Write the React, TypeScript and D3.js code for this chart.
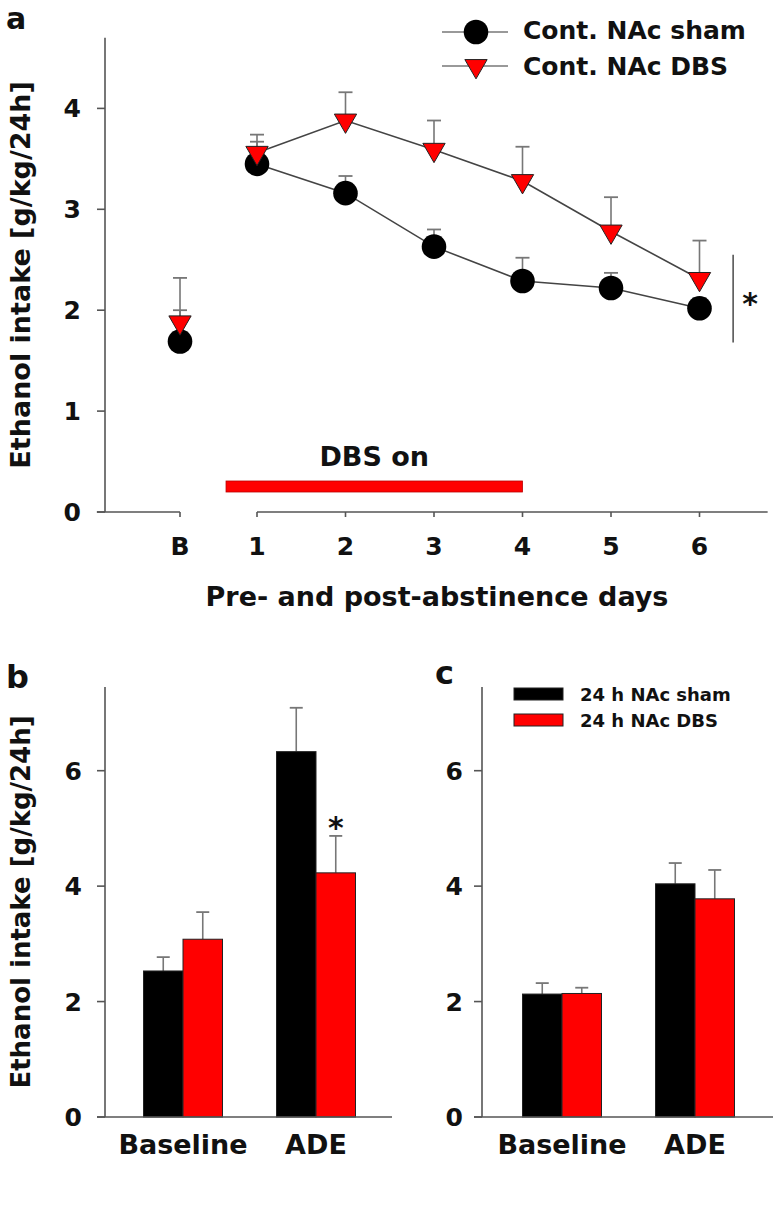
import React from 'react';
import * as d3 from 'd3';

// ---------- Panel a data ----------
const dayLabels = ["B", "1", "2", "3", "4", "5", "6"];
const dayPos = [0.13, 1, 2, 3, 4, 5, 6];
const shamMean = [1.69, 3.45, 3.16, 2.63, 2.29, 2.22, 2.02];
const shamSem = [0.31, 0.22, 0.17, 0.17, 0.23, 0.15, 0.1];
const dbsMean = [1.88, 3.56, 3.88, 3.59, 3.28, 2.78, 2.31];
const dbsSem = [0.44, 0.18, 0.28, 0.29, 0.34, 0.34, 0.38];
const yTicksA = [0, 1, 2, 3, 4];
const dbsOnRange = [0.65, 4];
const legendA = ["Cont. NAc sham", "Cont. NAc DBS"];

// ---------- Panels b, c data ----------
const barGroups = ["Baseline", "ADE"];
const barSeries = ["sham", "dbs"];
const bShamMean = [2.53, 6.33];
const bShamSem = [0.24, 0.76];
const bDbsMean = [3.08, 4.23];
const bDbsSem = [0.47, 0.64];
const cShamMean = [2.13, 4.04];
const cShamSem = [0.19, 0.36];
const cDbsMean = [2.14, 3.78];
const cDbsSem = [0.1, 0.5];
const yTicksBC = [0, 2, 4, 6];
const legendC = ["24 h NAc sham", "24 h NAc DBS"];

const FONT = "'DejaVu Sans', 'Liberation Sans', sans-serif";
const AX = "#555";
const RED = "#ff0000";

function BarPanel(props: {
  x0: number; x1: number; axisX: number; axisLeft: number; axisRight: number;
  shamM: number[]; shamE: number[]; dbsM: number[]; dbsE: number[];
  star?: boolean; labelX: number;
}) {
  const { x0, x1, axisX, axisLeft, axisRight, shamM, shamE, dbsM, dbsE } = props;
  const y = d3.scaleLinear().domain([0, 7.45]).range([1117, 687]);
  const xg = d3.scaleBand().domain(barGroups).range([x0, x1]);
  const bw = 39.5;
  const xs = (g: string) =>
    d3.scaleBand().domain(barSeries).range([xg(g)! + xg.bandwidth() / 2 - bw, xg(g)! + xg.bandwidth() / 2 + bw]);
  const vals: Record<string, number[][]> = { sham: [shamM, shamE], dbs: [dbsM, dbsE] };
  return (
    <g>
      {barGroups.map((g, gi) =>
        barSeries.map((s) => {
          const sc = xs(g);
          const m = vals[s][0][gi];
          const e = vals[s][1][gi];
          const cx = sc(s)! + sc.bandwidth() / 2;
          return (
            <g key={g + s}>
              <line x1={cx} x2={cx} y1={y(m)} y2={y(m + e)} stroke="#777" strokeWidth={1.6} />
              <line x1={cx - 6.5} x2={cx + 6.5} y1={y(m + e)} y2={y(m + e)} stroke="#777" strokeWidth={1.8} />
              <rect x={sc(s)} y={y(m)} width={sc.bandwidth()} height={y(0) - y(m)}
                fill={s === "sham" ? "#000" : RED} stroke="#222" strokeWidth={1} />
            </g>
          );
        })
      )}
      <line x1={axisX} x2={axisX} y1={y.range()[1]} y2={y(0)} stroke={AX} strokeWidth={1.6} />
      <line x1={axisLeft} x2={axisRight} y1={y(0)} y2={y(0)} stroke={AX} strokeWidth={1.6} />
      {yTicksBC.map((t) => (
        <g key={t}>
          <line x1={axisX - 8} x2={axisX} y1={y(t)} y2={y(t)} stroke={AX} strokeWidth={1.6} />
          <text x={props.labelX} y={y(t)} dy="0.36em" textAnchor="end" fontSize={25} fontWeight="bold" fontFamily={FONT} fill="#111">{t}</text>
        </g>
      ))}
      {barGroups.map((g) => (
        <text key={g} x={xg(g)! + xg.bandwidth() / 2} y={1154} textAnchor="middle" fontSize={27} fontWeight="bold" fontFamily={FONT} fill="#111">{g}</text>
      ))}
      {props.star && (() => {
        const sc = xs("ADE");
        const cx = sc("dbs")! + sc.bandwidth() / 2;
        return <text x={cx} y={y(dbsM[1] + dbsE[1]) + 2} textAnchor="middle" fontSize={30} fontWeight="bold" fontFamily={FONT} fill="#111">*</text>;
      })()}
    </g>
  );
}

export default function App() {
  const xA = d3.scaleLinear().domain([1, 6]).range([257, 699.5]);
  const yA = d3.scaleLinear().domain([0, 4]).range([512, 108.4]);
  const tri = d3.symbol(d3.symbolTriangle, 215)()!;
  const lineGen = d3.line<number>().x((_, i) => xA(dayPos[i + 1])).y((d) => yA(d));

  return (
    <svg width={775} height={1205} style={{ position: 'absolute', left: 0, top: 0, background: '#fff' }}>
      <rect x={0} y={0} width={775} height={1205} fill="#fff" />
      {/* ===== Panel a ===== */}
      <text x={6} y={29} fontSize={30} fontWeight="bold" fontFamily={FONT} fill="#111">a</text>
      <text transform={`translate(30,${(yA(0) + yA(4.7)) / 2}) rotate(-90)`} textAnchor="middle" fontSize={27} fontWeight="bold" fontFamily={FONT} fill="#111">Ethanol intake [g/kg/24h]</text>
      <line x1={105} x2={105} y1={yA(4.7)} y2={yA(0)} stroke={AX} strokeWidth={1.6} />
      {yTicksA.map((t) => (
        <g key={t}>
          <line x1={97} x2={105} y1={yA(t)} y2={yA(t)} stroke={AX} strokeWidth={1.6} />
          <text x={81} y={yA(t)} dy="0.36em" textAnchor="end" fontSize={25} fontWeight="bold" fontFamily={FONT} fill="#111">{t}</text>
        </g>
      ))}
      <line x1={xA(-0.81)} x2={xA(dayPos[0])} y1={yA(0)} y2={yA(0)} stroke={AX} strokeWidth={1.6} />
      <line x1={xA(1)} x2={xA(6.77)} y1={yA(0)} y2={yA(0)} stroke={AX} strokeWidth={1.6} />
      {dayPos.map((p, i) => (
        <g key={i}>
          <line x1={xA(p)} x2={xA(p)} y1={yA(0)} y2={yA(0) + 5} stroke={AX} strokeWidth={1.6} />
          <text x={xA(p)} y={555} textAnchor="middle" fontSize={25} fontWeight="bold" fontFamily={FONT} fill="#111">{dayLabels[i]}</text>
        </g>
      ))}
      <text x={437} y={606} textAnchor="middle" fontSize={27} fontWeight="bold" fontFamily={FONT} fill="#111">Pre- and post-abstinence days</text>
      <rect x={xA(dbsOnRange[0])} y={481} width={xA(dbsOnRange[1]) - xA(dbsOnRange[0])} height={11} fill={RED} stroke="#b00" strokeWidth={0.8} />
      <text x={(xA(dbsOnRange[0]) + xA(dbsOnRange[1])) / 2} y={466} textAnchor="middle" fontSize={27} fontWeight="bold" fontFamily={FONT} fill="#111">DBS on</text>
      {dayPos.map((p, i) => (
        <g key={'e' + i}>
          <line x1={xA(p)} x2={xA(p)} y1={yA(shamMean[i])} y2={yA(shamMean[i] + shamSem[i])} stroke="#777" strokeWidth={1.6} />
          <line x1={xA(p) - 7} x2={xA(p) + 7} y1={yA(shamMean[i] + shamSem[i])} y2={yA(shamMean[i] + shamSem[i])} stroke="#777" strokeWidth={1.8} />
          <line x1={xA(p)} x2={xA(p)} y1={yA(dbsMean[i])} y2={yA(dbsMean[i] + dbsSem[i])} stroke="#777" strokeWidth={1.6} />
          <line x1={xA(p) - 7} x2={xA(p) + 7} y1={yA(dbsMean[i] + dbsSem[i])} y2={yA(dbsMean[i] + dbsSem[i])} stroke="#777" strokeWidth={1.8} />
        </g>
      ))}
      <path d={lineGen(shamMean.slice(1))!} fill="none" stroke="#444" strokeWidth={1.6} />
      <path d={lineGen(dbsMean.slice(1))!} fill="none" stroke="#444" strokeWidth={1.6} />
      {dayPos.map((p, i) => (
        <circle key={'c' + i} cx={xA(p)} cy={yA(shamMean[i])} r={12.3} fill="#000" />
      ))}
      {dayPos.map((p, i) => (
        <path key={'t' + i} d={tri} transform={`translate(${xA(p)},${yA(dbsMean[i])}) rotate(180)`} fill={RED} stroke="#222" strokeWidth={1} />
      ))}
      <line x1={xA(6.38)} x2={xA(6.38)} y1={yA(2.55)} y2={yA(1.68)} stroke={AX} strokeWidth={1.6} />
      <text x={xA(6.38) + 17} y={yA(2.12) + 16} textAnchor="middle" fontSize={30} fontWeight="bold" fontFamily={FONT} fill="#111">*</text>
      {legendA.map((l, i) => (
        <g key={l}>
          <line x1={442} x2={508} y1={32 + i * 34} y2={32 + i * 34} stroke="#777" strokeWidth={1.6} />
          {i === 0 ? (
            <circle cx={476} cy={32} r={12.3} fill="#000" />
          ) : (
            <path d={tri} transform={`translate(476,${32 + 34}) rotate(180)`} fill={RED} stroke="#222" strokeWidth={1} />
          )}
          <text x={523} y={39 + i * 36} fontSize={25} fontWeight="bold" fontFamily={FONT} fill="#111">{l}</text>
        </g>
      ))}

      {/* ===== Panel b ===== */}
      <text x={6} y={688} fontSize={32} fontWeight="bold" fontFamily={FONT} fill="#111">b</text>
      <text transform={`translate(30,902) rotate(-90)`} textAnchor="middle" fontSize={26} fontWeight="bold" fontFamily={FONT} fill="#111">Ethanol intake [g/kg/24h]</text>
      <BarPanel x0={116.5} x1={382.5} axisX={105} axisLeft={97} axisRight={392}
        shamM={bShamMean} shamE={bShamSem} dbsM={bDbsMean} dbsE={bDbsSem} star labelX={82} />

      {/* ===== Panel c ===== */}
      <text x={435} y={684} fontSize={32} fontWeight="bold" fontFamily={FONT} fill="#111">c</text>
      <BarPanel x0={495.5} x1={761.5} axisX={482} axisLeft={474} axisRight={773}
        shamM={cShamMean} shamE={cShamSem} dbsM={cDbsMean} dbsE={cDbsSem} labelX={463} />
      {legendC.map((l, i) => (
        <g key={l}>
          <rect x={514} y={688 + i * 26} width={49} height={12} fill={i === 0 ? "#000" : RED} stroke="#222" strokeWidth={1} />
          <text x={580} y={701 + i * 26} fontSize={18} fontWeight="bold" fontFamily={FONT} fill="#111">{l}</text>
        </g>
      ))}
    </svg>
  );
}
